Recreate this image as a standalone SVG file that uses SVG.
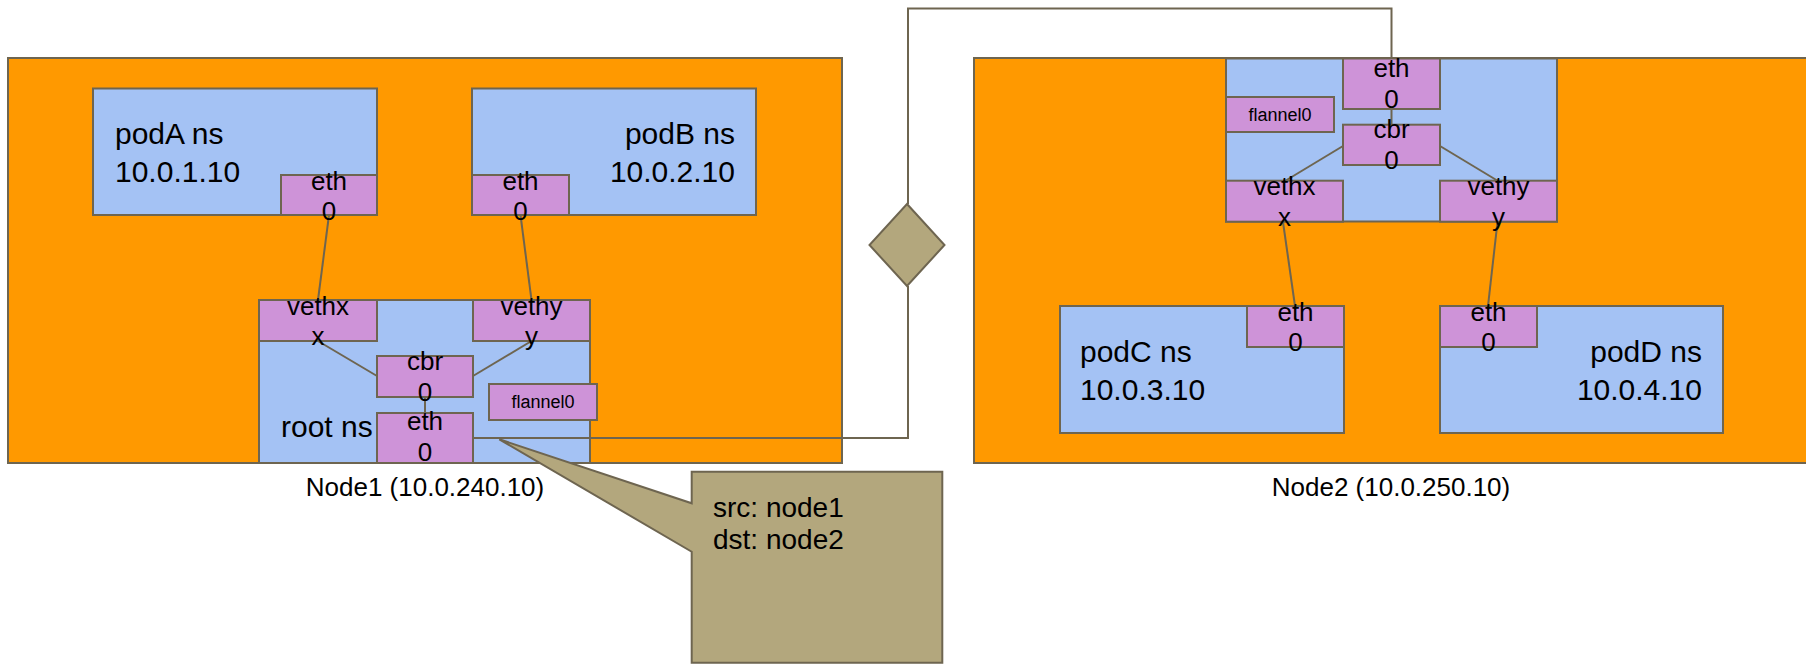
<svg xmlns="http://www.w3.org/2000/svg" width="1806" height="664" viewBox="0 0 1806 664">
<style>
text{font-family:"Liberation Sans",Arial,sans-serif;fill:#000}
.host{fill:#ff9900;stroke:#6e6550;stroke-width:2}
.ns{fill:#a4c2f4;stroke:#6e6550;stroke-width:2}
.if{fill:#ce93d8;stroke:#6e6550;stroke-width:2}
.big{font-size:30px}
.mid{font-size:26px}
.ifl{font-size:26px;text-anchor:middle}
.sm{font-size:18px;text-anchor:middle}
.lbl{font-size:26px;text-anchor:middle}
.end{text-anchor:end}
.wire{fill:none;stroke:#6e6550;stroke-width:2}
.note{fill:#b3a77d;stroke:#6e6550;stroke-width:2}
</style>

<g id="node1">
<rect class="host" x="8" y="58" width="834" height="405"/>
<text class="lbl" x="425" y="496">Node1 (10.0.240.10)</text>
</g>
<g id="node2">
<rect class="host" x="974" y="58" width="840" height="405"/>
<text class="lbl" x="1391" y="496">Node2 (10.0.250.10)</text>
</g>

<g id="podA">
<rect class="ns" x="93" y="88.5" width="284" height="126.5"/>
<text class="big" x="115" y="144">podA ns</text>
<text class="big" x="115" y="181.5">10.0.1.10</text>
</g>
<g id="podB">
<rect class="ns" x="472" y="88.5" width="284" height="126.5"/>
<text class="big end" x="735" y="144">podB ns</text>
<text class="big end" x="735" y="181.5">10.0.2.10</text>
</g>
<g id="root1">
<rect class="ns" x="259" y="300" width="331" height="163"/>
<text class="big" x="281" y="437">root ns</text>
</g>
<g id="podC">
<rect class="ns" x="1060" y="306" width="284" height="127"/>
<text class="big" x="1080" y="361.5">podC ns</text>
<text class="big" x="1080" y="400">10.0.3.10</text>
</g>
<g id="podD">
<rect class="ns" x="1440" y="306" width="283" height="127"/>
<text class="big end" x="1702" y="361.5">podD ns</text>
<text class="big end" x="1702" y="400">10.0.4.10</text>
</g>
<g id="root2">
<rect class="ns" x="1226" y="58.5" width="331" height="163"/>
</g>

<g id="connectors">
<path class="wire" d="M329 215 L318 300"/>
<path class="wire" d="M520.5 215 L531.5 300"/>
<path class="wire" d="M318 341 L377 376"/>
<path class="wire" d="M531.5 341 L473 376"/>
<path class="wire" d="M425 397 L425 413"/>
<path class="wire" d="M473 438 L908 438 L908 286"/>
<path class="wire" d="M908 204 L908 8.5 L1391.5 8.5 L1391.5 58.5"/>
<path class="wire" d="M1391.5 109 L1391.5 124.7"/>
<path class="wire" d="M1343 146 L1285 181"/>
<path class="wire" d="M1440 146 L1498 181"/>
<path class="wire" d="M1283 222 L1295 306"/>
<path class="wire" d="M1497.5 222 L1488 306"/>
</g>

<g id="podA-eth0">
<rect class="if" x="281" y="175" width="96" height="40"/>
<text class="ifl" x="329" y="189.5">eth<tspan x="329" y="220">0</tspan></text>
</g>
<g id="podB-eth0">
<rect class="if" x="472" y="175" width="97" height="40"/>
<text class="ifl" x="520.5" y="189.5">eth<tspan x="520.5" y="220">0</tspan></text>
</g>
<g id="n1-vethxx">
<rect class="if" x="259" y="300" width="118" height="41"/>
<text class="ifl" x="318" y="314.5">vethx<tspan x="318" y="345">x</tspan></text>
</g>
<g id="n1-vethyy">
<rect class="if" x="473" y="300" width="117" height="41"/>
<text class="ifl" x="531.5" y="314.5">vethy<tspan x="531.5" y="345">y</tspan></text>
</g>
<g id="n1-cbr0">
<rect class="if" x="377" y="356" width="96" height="41"/>
<text class="ifl" x="425" y="370">cbr<tspan x="425" y="400.5">0</tspan></text>
</g>
<g id="n1-eth0">
<rect class="if" x="377" y="413" width="96" height="50"/>
<text class="ifl" x="425" y="430">eth<tspan x="425" y="460.5">0</tspan></text>
</g>
<g id="n1-flannel0">
<rect class="if" x="489" y="384" width="108" height="36"/>
<text class="sm" x="543" y="408">flannel0</text>
</g>

<g id="n2-eth0">
<rect class="if" x="1343" y="58.5" width="97" height="50.5"/>
<text class="ifl" x="1391.5" y="76.5">eth<tspan x="1391.5" y="107.5">0</tspan></text>
</g>
<g id="n2-flannel0">
<rect class="if" x="1226" y="97" width="108" height="35"/>
<text class="sm" x="1280" y="120.5">flannel0</text>
</g>
<g id="n2-cbr0">
<rect class="if" x="1343" y="124.7" width="97" height="40.3"/>
<text class="ifl" x="1391.5" y="138">cbr<tspan x="1391.5" y="168.5">0</tspan></text>
</g>
<g id="n2-vethxx">
<rect class="if" x="1226" y="180.7" width="117" height="41"/>
<text class="ifl" x="1284.5" y="195">vethx<tspan x="1284.5" y="225.5">x</tspan></text>
</g>
<g id="n2-vethyy">
<rect class="if" x="1440" y="180.7" width="117" height="41"/>
<text class="ifl" x="1498.5" y="195">vethy<tspan x="1498.5" y="225.5">y</tspan></text>
</g>
<g id="podC-eth0">
<rect class="if" x="1247" y="306" width="97" height="41"/>
<text class="ifl" x="1295.5" y="320.5">eth<tspan x="1295.5" y="351">0</tspan></text>
</g>
<g id="podD-eth0">
<rect class="if" x="1440" y="306" width="97" height="41"/>
<text class="ifl" x="1488.5" y="320.5">eth<tspan x="1488.5" y="351">0</tspan></text>
</g>

<g id="diamond">
<polygon class="note" points="907,204 944.5,245 907,286 869.5,245"/>
</g>

<g id="callout">
<polygon class="note" points="691.7,471.7 942.3,471.7 942.3,662.7 691.7,662.7 691.7,551.7 499.3,439.3 691.7,503.3"/>
<text class="mid" x="713" y="517" style="font-size:28px">src: node1</text>
<text class="mid" x="713" y="548.5" style="font-size:28px">dst: node2</text>
</g>
</svg>
